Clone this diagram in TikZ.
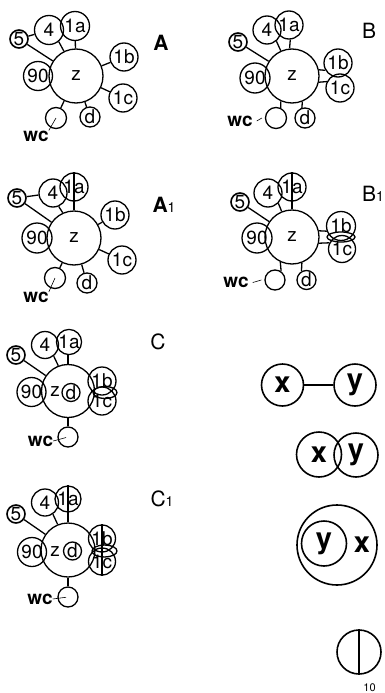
\documentclass[tikz,border=0pt]{standalone}
\usepackage{fontspec}
\setmainfont{TeX Gyre Heros}
\usetikzlibrary{shapes.geometric}
\newcommand{\labfont}{\fontsize{19}{19}\selectfont}
\newcommand{\wcfont}{\fontsize{19}{19}\selectfont\bfseries}
\newcommand{\bigfont}{\fontsize{21}{21}\selectfont}
\newcommand{\subfont}{\fontsize{14}{14}\selectfont\mdseries}
\newcommand{\xyfont}{\fontsize{29}{29}\selectfont\bfseries}
\begin{document}
\begin{tikzpicture}[x=1pt,y=-1pt,
  ring/.style={circle, draw, line width=1.3pt, inner sep=0pt, minimum size=#1, font=\labfont},
  lens/.style={ellipse, draw, line width=1.3pt, inner sep=0pt, minimum width=24pt, minimum height=12pt},
  conn/.style={line width=1.3pt},
  hair/.style={line width=0.6pt},
  txt/.style={inner sep=0pt, font=\labfont},
  wclab/.style={inner sep=0pt, font=\wcfont},
  title/.style={inner sep=0pt, font=\bigfont},
  bigring/.style={circle, draw, line width=1.6pt, inner sep=0pt, minimum size=#1, font=\xyfont},
  xytxt/.style={inner sep=0pt, font=\xyfont}]
\useasboundingbox (0,0) rectangle (385,693);

% ---------------- A ----------------
\node[ring=54] (az) at (76,76) {z};
\node[ring=29] (a4) at (49,30) {4};
\node[ring=29] (a1a) at (75,26) {1a};
\node[ring=18,line width=1.6pt] (a5) at (19,39) {5};
\node[ring=29] (a90) at (38,76) {90};
\node[ring=28] (a1b) at (124,57) {1b};
\node[ring=28] (a1c) at (123,98) {1c};
\node[ring=20] (ad) at (90,117) {d};
\node[ring=21] (awc) at (56,118) {};
\node[wclab] (awcl) at (36,136) {wc};
\node[title] (alab) at (161,43) {\bfseries A};
\draw[conn] (a5) -- (a4);
\draw[conn] (a5) -- (az);
\draw[conn] (a4.-50) -- (az.116);
\draw[conn] (a1a) -- (az);
\draw[conn] (az) -- (a1b);
\draw[conn] (az) -- (a1c);
\draw[conn] (az) -- (ad);
\draw[conn] (az) -- (awc);
\draw[hair] (awc.center) -- (awcl.north east);

% ---------------- A1 ----------------
\node[ring=54] (pz) at (74,238) {z};
\node[ring=28] (p4) at (53,193) {4};
\node[ring=28] (p1a) at (74,187) {1a};
\node[ring=18,line width=1.6pt] (p5) at (17,198) {5};
\node[ring=30] (p90) at (37,238) {90};
\node[ring=28] (p1b) at (115,215) {1b};
\node[ring=28] (p1c) at (122,260) {1c};
\node[ring=20] (pd) at (87,283) {d};
\node[ring=21] (pwc) at (55,278) {};
\node[wclab] (pwcl) at (36,297.5) {wc};
\node[title] (plab) at (164,205) {\bfseries A{\subfont 1}};
\draw[conn] (p5) -- (p4);
\draw[conn] (p5) -- (pz);
\draw[conn] (p4.-67) -- (pz.114);
\draw[conn] (p1a.north) -- (pz.north);
\draw[conn] (pz) -- (p1b);
\draw[conn] (pz) -- (p1c);
\draw[conn] (pz) -- (pd);
\draw[conn] (pz) -- (pwc);
\draw[hair] (pwc.center) -- (pwcl.north east);

% ---------------- B ----------------
\node[ring=54] (bz) at (292,76) {z};
\node[ring=28] (b4) at (267,30) {4};
\node[ring=28] (b1a) at (289,25) {1a};
\node[ring=18,line width=1.6pt] (b5) at (238,42) {5};
\node[ring=30] (b90) at (255,78) {90};
\node[ring=28] (b1b) at (338,63) {1b};
\node[ring=28] (b1c) at (340,88) {1c};
\node[ring=20] (bd) at (305,118) {d};
\node[ring=21] (bwc) at (276,118) {};
\node[wclab] (bwcl) at (240,121) {wc};
\node[title] (blab) at (369,31) {B};
\draw[conn] (b5) -- (bz);
\draw[conn] (b4.-50) -- (bz.114);
\draw[conn] (b1a.-85) -- (bz.95);
\draw[conn] (bz.13) -- (b1b.210);
\draw[conn] (bz.-13) -- (b1c.154);
\draw[conn] (bwc.65) -- (bz.-114);
\draw[conn] (bd.107) -- (bz.-68);
\draw[hair] ([xshift=4pt]bwcl.east) -- ([xshift=-3pt]bwc.west);

% ---------------- B1 ----------------
\node[ring=54] (qz) at (292,237) {z};
\node[ring=28] (q4) at (268,193) {4};
\node[ring=28] (q1a) at (292,187) {1a};
\node[ring=18,line width=1.6pt] (q5) at (240,202) {5};
\node[ring=30] (q90) at (257,238) {90};
\node[ring=29] (q1b) at (341,226) {1b};
\node[ring=27] (q1c) at (342,249) {1c};
\node[lens, minimum width=28pt, minimum height=10pt] (qel) at (341,237) {};
\node[ring=19] (qd) at (306.5,280) {d};
\node[ring=20] (qwc) at (275,280) {};
\node[wclab] (qwcl) at (236,282.5) {wc};
\node[title, anchor=west] (qlab) at (362,194) {B{\subfont 1}};
\draw[conn] (q5) -- (qz);
\draw[conn] (q4.-45) -- (qz.112);
\draw[conn] (q1a.north) -- (qz.north);
\draw[conn] (qz.13) -- (q1b.200);
\draw[conn] (qz.-13) -- (q1c.154);
\draw[conn] (qwc.55) -- (qz.-115);
\draw[conn] (qd.120) -- (qz.-69);
\draw[hair] ([xshift=4pt]qwcl.east) -- ([xshift=-3pt]qwc.west);

% ---------------- C ----------------
\node[ring=53] (cz) at (68,391) {};
\node[txt] (czl) at (55,392) {z};
\node[ring=18] (cd) at (71,392.5) {d};
\node[ring=27] (c4) at (45,345) {4};
\node[ring=24] (c1a) at (69,342) {1a};
\node[ring=18,line width=1.6pt] (c5) at (16,355) {5};
\node[ring=29] (c90) at (31.5,392) {90};
\node[ring=28] (c1b) at (102,381) {1b};
\node[ring=28] (c1c) at (102,401) {1c};
\node[lens] (cel) at (105,392.5) {};
\node[ring=20] (cwc) at (68,437) {};
\node[wclab] (cwcl) at (40.5,441) {wc};
\node[title] (clab) at (158,341.5) {C};
\draw[conn] (c5) -- (cz);
\draw[conn] (c4.-52) -- (cz.111);
\draw[conn] (c1a.south -| cz.north) -- (cz.north);
\draw[conn] (cz.south) -- (cwc.north);
\draw[hair, shorten >=2pt] (cwcl.east) -- (cwc.center);

% ---------------- C1 ----------------
\node[ring=54] (kz) at (68,550) {};
\node[txt] (kzl) at (55,552) {z};
\node[ring=18] (kd) at (72.5,551) {d};
\node[ring=27] (k4) at (45,502.5) {4};
\node[ring=26] (k1a) at (68,499) {1a};
\node[ring=18,line width=1.6pt] (k5) at (16,514) {5};
\node[ring=29] (k90) at (32,552) {90};
\node[ring=27] (k1b) at (102,538.5) {1b};
\node[ring=27] (k1c) at (102,561.5) {1c};
\node[lens, minimum width=25pt] (kel) at (104.5,551) {};
\node[ring=20] (kwc) at (68,597) {};
\node[wclab] (kwcl) at (40,599) {wc};
\node[title] (klab) at (162,499) {C{\subfont 1}};
\draw[conn] (k5) -- (kz);
\draw[conn] (k4.-56) -- (kz.112);
\draw[conn] (k1a.north) -- (kz.north);
\draw[conn] (k1b.north) -- (k1c.south);
\draw[conn] (kz.south) -- (kwc.north);
\draw[hair, shorten >=2pt] (kwcl.east) -- (kwc.center);

% ---------------- right column symbols ----------------
\node[bigring=42] (x1) at (282.5,385) {x};
\node[bigring=42] (y1) at (355,385) {y};
\draw[conn] (x1) -- (y1);

\node[bigring=45] (x2) at (319,454.5) {x};
\node[bigring=44] (y2) at (356,455) {y};

\node[bigring=80] (x3) at (337,545) {};
\node[bigring=45] (y3) at (324,543.5) {y};
\node[xytxt] (x3l) at (362,545) {x};

\node[bigring=44] (t) at (359,652) {};
\draw[conn] (t.north) -- (t.south);
\node[inner sep=0pt, font=\fontsize{11}{11}\selectfont] (num) at (369.5,688) {10};
\end{tikzpicture}
\end{document}
